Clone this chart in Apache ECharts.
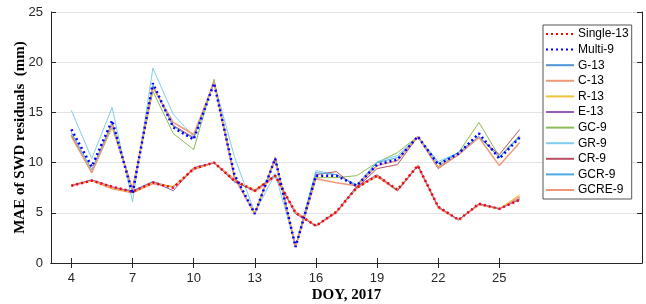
<!DOCTYPE html>
<html lang="en">
<head>
  <meta charset="UTF-8">
  <title>MAE of SWD residuals</title>
  <script src="https://cdn.jsdelivr.net/npm/echarts@6.0.0/dist/echarts.min.js"></script>
</head>
<body style="margin:0">
  <div id="main" style="width: 646px;height:304px;"></div>
</body>
<script type="text/javascript">
  var days = [4, 5, 6, 7, 8, 9, 10, 11, 12, 13, 14, 15, 16, 17, 18, 19, 20, 21, 22, 23, 24, 25, 26];
  var xTicks = [4, 7, 10, 13, 16, 19, 22, 25];

  // 13 group
  var single13 = [7.7, 8.2, 7.6, 7.1, 8.0, 7.5, 9.4, 10.0, 8.2, 7.2, 8.7, 5.0, 3.7, 5.1, 7.5, 8.7, 7.3, 9.7, 5.6, 4.3, 5.9, 5.4, 6.3];
  var g13 = [7.7, 8.2, 7.5, 7.2, 8.1, 7.5, 9.4, 10.0, 8.1, 7.2, 8.8, 5.0, 3.7, 5.1, 7.4, 8.7, 7.3, 9.7, 5.6, 4.3, 5.9, 5.4, 6.4];
  var c13 = [7.7, 8.2, 7.4, 7.0, 7.9, 7.6, 9.3, 10.0, 8.3, 7.1, 8.6, 5.1, 3.7, 5.0, 7.6, 8.6, 7.2, 9.7, 5.5, 4.3, 5.8, 5.4, 6.6];
  var r13 = [7.8, 8.2, 7.5, 7.0, 8.0, 7.6, 9.4, 10.0, 8.2, 7.3, 8.7, 5.0, 3.7, 5.1, 7.5, 8.7, 7.3, 9.7, 5.6, 4.3, 5.9, 5.4, 6.8];
  var e13 = [7.7, 8.3, 7.6, 7.1, 8.1, 7.2, 9.5, 10.0, 8.1, 7.2, 8.7, 4.9, 3.7, 5.1, 7.6, 8.8, 7.2, 9.7, 5.6, 4.3, 5.9, 5.4, 6.3];

  // 9 group
  var multi9 = [13.3, 9.6, 14.2, 6.9, 17.9, 13.5, 12.3, 17.9, 8.8, 4.9, 10.4, 1.6, 8.7, 8.7, 7.7, 9.8, 10.3, 12.6, 9.8, 10.9, 12.9, 10.4, 12.5];
  var gc9 = [12.8, 9.0, 13.5, 7.3, 17.1, 12.9, 11.3, 18.3, 8.6, 4.9, 10.5, 1.6, 8.5, 8.5, 8.7, 10.0, 11.0, 12.6, 9.6, 11.0, 14.0, 10.6, 12.7];
  var gr9 = [15.2, 10.4, 15.5, 6.1, 19.4, 14.8, 12.6, 18.0, 10.6, 5.0, 8.9, 1.7, 9.2, 8.8, 7.8, 10.1, 10.7, 12.6, 10.1, 11.0, 12.6, 10.6, 12.5];
  var cr9 = [12.7, 9.0, 13.9, 7.3, 17.6, 13.7, 12.5, 18.0, 8.5, 4.9, 10.5, 1.6, 8.8, 9.1, 7.5, 9.4, 9.8, 12.6, 9.4, 10.8, 12.5, 10.8, 13.3];
  var gcr9 = [13.0, 9.3, 14.0, 7.1, 17.7, 13.6, 12.4, 18.0, 8.7, 4.9, 10.4, 1.6, 9.0, 8.8, 7.7, 10.0, 10.5, 12.6, 9.9, 11.0, 12.6, 10.5, 12.6];
  var gcre9 = [12.6, 9.0, 13.8, 7.3, 17.5, 14.0, 12.8, 18.0, 8.5, 4.9, 10.3, 1.6, 8.4, 8.0, 7.7, 9.7, 10.2, 12.6, 9.5, 10.8, 12.5, 9.7, 12.0];

  var app = echarts.init(document.getElementById('main'));

  function pairs(vals) {
    return days.map(function (d, i) { return [d, vals[i]]; });
  }

  function line(name, vals, color, width, type, z) {
    return {
      name: name,
      type: 'line',
      symbol: 'none',
      z: z || 2,
      animation: false,
      lineStyle: { color: color, width: width, type: type || 'solid' },
      itemStyle: { color: color },
      data: pairs(vals)
    };
  }

  var axisColor = '#262626';
  var tickFont = { fontFamily: 'Liberation Sans', fontSize: 13, color: axisColor };

  var option = {
    backgroundColor: '#fff',
    grid: { left: 51, right: 4, top: 12, bottom: 41, outerBoundsMode: 'none' },
    legend: {
      orient: 'vertical',
      left: 543,
      top: 25,
      itemWidth: 28,
      itemHeight: 12,
      itemGap: 3.6,
      padding: [3, 3, 3, 2],
      backgroundColor: '#fff',
      borderColor: '#555',
      borderWidth: 1,
      itemStyle: { opacity: 0 },
      textStyle: { fontFamily: 'Liberation Sans', fontSize: 12, color: '#000', padding: [0, 0, 0, -1] },
      data: ['Single-13', 'Multi-9', 'G-13', 'C-13', 'R-13', 'E-13', 'GC-9', 'GR-9', 'CR-9', 'GCR-9', 'GCRE-9']
    },
    xAxis: [{
      type: 'value',
      min: 3,
      max: 32,
      name: 'DOY, 2017',
      nameLocation: 'middle',
      nameGap: 25,
      nameMoveOverlap: false,
      nameTextStyle: { fontFamily: 'Liberation Serif', fontWeight: 'bold', fontSize: 15, color: '#000' },
      axisLine: { lineStyle: { color: axisColor } },
      axisTick: { inside: true, length: 5, customValues: xTicks, lineStyle: { color: axisColor } },
      axisLabel: Object.assign({ customValues: xTicks, margin: 9 }, tickFont),
      splitLine: { show: false }
    }, {
      type: 'value',
      position: 'top',
      min: 3,
      max: 32,
      axisLine: { show: true, lineStyle: { color: axisColor } },
      axisTick: { inside: true, length: 5, customValues: xTicks, lineStyle: { color: axisColor } },
      axisLabel: { show: false },
      splitLine: { show: false }
    }],
    yAxis: [{
      type: 'value',
      min: 0,
      max: 25,
      interval: 5,
      name: 'MAE of SWD residuals  (mm)',
      nameLocation: 'middle',
      nameGap: 23,
      nameMoveOverlap: false,
      nameTextStyle: { fontFamily: 'Liberation Serif', fontWeight: 'bold', fontSize: 15, color: '#000' },
      axisLine: { show: true, lineStyle: { color: axisColor } },
      axisTick: { show: true, inside: true, length: 5, lineStyle: { color: axisColor } },
      axisLabel: Object.assign({ margin: 8 }, tickFont),
      splitLine: { show: true, lineStyle: { color: '#e3e3e3', width: 1 } }
    }, {
      type: 'value',
      position: 'right',
      min: 0,
      max: 25,
      interval: 5,
      axisLine: { show: true, lineStyle: { color: axisColor } },
      axisTick: { show: true, inside: true, length: 5, lineStyle: { color: axisColor } },
      axisLabel: { show: false },
      splitLine: { show: false }
    }],
    series: [
      line('G-13', g13, '#4f94d4', 1),
      line('C-13', c13, '#ee9a78', 1.5),
      line('R-13', r13, '#f2c13a', 1),
      line('E-13', e13, '#9a5cb6', 1),
      line('GC-9', gc9, '#8cba55', 1),
      line('GR-9', gr9, '#7fcdf0', 1),
      line('CR-9', cr9, '#b9505f', 1),
      line('GCR-9', gcr9, '#4ea8e2', 1),
      line('GCRE-9', gcre9, '#ee9a78', 1.5),
      line('Single-13', single13, '#ff0000', 2.5, [2, 3], 5),
      line('Multi-9', multi9, '#0000ff', 2.5, [2, 3], 5)
    ]
  };

  app.setOption(option);
</script>
</html>
